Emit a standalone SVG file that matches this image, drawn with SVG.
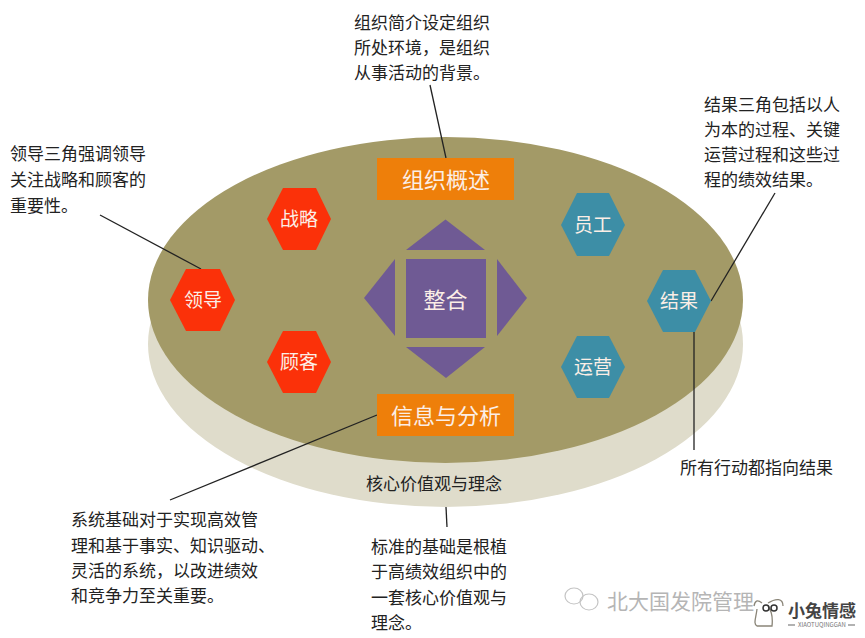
<svg xmlns="http://www.w3.org/2000/svg" width="865" height="638" viewBox="0 0 865 638">
<style>
text{font-family:"Noto Sans CJK SC","Liberation Sans",sans-serif}
.n{font-size:17px;fill:#222}
.w{fill:#fbeee6;text-anchor:middle}
.h{font-size:19px}
.o{font-size:22px}
.red{fill:#fb3109}
.teal{fill:#3d8ea6}
.or{fill:#ee7f0a}
.pu{fill:#6f5a94}
.l{stroke:#222;stroke-width:1.3;fill:none}
.wm{fill:#b5b5b5;font-size:21px}
</style>
<rect width="865" height="638" fill="#fff"/>
<g id="base">
<ellipse cx="445.5" cy="344" rx="297.5" ry="163" fill="#dfdccb"/>
<ellipse cx="445.5" cy="300" rx="297.5" ry="163" fill="#a39a67"/>
</g>
<g id="connectors">
<path class="l" d="M430 85L446 158"/>
<path class="l" d="M100 215L201 269"/>
<path class="l" d="M775 193L711 301"/>
<path class="l" d="M694 332V450"/>
<path class="l" d="M377 415L170 500"/>
<path class="l" d="M446 507L447 527"/>
</g>
<g id="org"><rect class="or" x="377" y="158" width="137" height="42"/><text class="w o" x="446" y="188">组织概述</text></g>
<g id="info"><rect class="or" x="377" y="394" width="137" height="42"/><text class="w o" x="446" y="424">信息与分析</text></g>
<g id="integrate">
<rect class="pu" x="406" y="259" width="80" height="79"/>
<path class="pu" d="M445.500 219.500L485 250H406Z"/>
<path class="pu" d="M406 347H485L446 378Z"/>
<path class="pu" d="M364 298L395 259V336Z"/>
<path class="pu" d="M527 298L497 259V336Z"/>
<text class="w" x="445.500" y="308" font-size="22">整合</text>
</g>
<g id="lead"><path class="red" d="M186 269H220L235 300L220 331H186L170 300Z"/><text class="w h" x="203" y="307">领导</text></g>
<g id="strategy"><path class="red" d="M283 188H316L331 219L316 250H283L267 219Z"/><text class="w h" x="299" y="226">战略</text></g>
<g id="customer"><path class="red" d="M283 331H316L331 362L316 393H283L267 362Z"/><text class="w h" x="299" y="369">顾客</text></g>
<g id="staff"><path class="teal" d="M577 193H609L625 225L609 256H577L561 225Z"/><text class="w h" x="593" y="232">员工</text></g>
<g id="result"><path class="teal" d="M663 270H695L711 301L695 332H663L647 301Z"/><text class="w h" x="679" y="308">结果</text></g>
<g id="ops"><path class="teal" d="M577 336H609L625 367L609 398H577L561 367Z"/><text class="w h" x="593" y="374">运营</text></g>
<g id="notes">
<text class="n" x="354" y="29">组织简介设定组织</text>
<text class="n" x="354" y="54">所处环境，是组织</text>
<text class="n" x="354" y="79">从事活动的背景。</text>
<text class="n" x="10" y="160">领导三角强调领导</text>
<text class="n" x="10" y="186">关注战略和顾客的</text>
<text class="n" x="10" y="212">重要性。</text>
<text class="n" x="704" y="111">结果三角包括以人</text>
<text class="n" x="704" y="136">为本的过程、关键</text>
<text class="n" x="704" y="161">运营过程和这些过</text>
<text class="n" x="704" y="186">程的绩效结果。</text>
<text class="n" x="680" y="474">所有行动都指向结果</text>
<text class="n" x="366" y="490" font-size="18">核心价值观与理念</text>
<text class="n" x="71" y="526">系统基础对于实现高效管</text>
<text class="n" x="71" y="552">理和基于事实、知识驱动、</text>
<text class="n" x="71" y="577">灵活的系统，以改进绩效</text>
<text class="n" x="71" y="602">和竞争力至关重要。</text>
<text class="n" x="371" y="553">标准的基础是根植</text>
<text class="n" x="371" y="578">于高绩效组织中的</text>
<text class="n" x="371" y="604">一套核心价值观与</text>
<text class="n" x="371" y="629">理念。</text>
</g>
<g id="watermark">
<g fill="none" stroke="#c4c4c4" stroke-width="1.200">
<ellipse cx="574" cy="596" rx="9" ry="8"/>
<ellipse cx="589" cy="602" rx="9" ry="8"/>
</g>
<text class="wm" x="607" y="609">北大国发院管理</text>
<g fill="none" stroke="#8a8578" stroke-width="1.300">
<path d="M757 609C756 618 753 624 757 626H772C773 617 771 610 768 606"/>
<path d="M762 603C757 599 755 601 754 606M768 603C776 598 783 598 783 606"/>
</g>
<g fill="none" stroke="#333" stroke-width="1.500"><circle cx="766" cy="608" r="3"/><circle cx="774" cy="608" r="3"/></g>
<text x="788" y="617" font-size="17" font-weight="700" fill="#444">小兔情感</text>
<text x="798" y="627" font-size="6" fill="#777" font-family="Liberation Sans">XIAOTUQINGGAN</text>
<path d="M788 625H795M848 625H855" stroke="#666" stroke-width="1.200"/>
</g>
</svg>
